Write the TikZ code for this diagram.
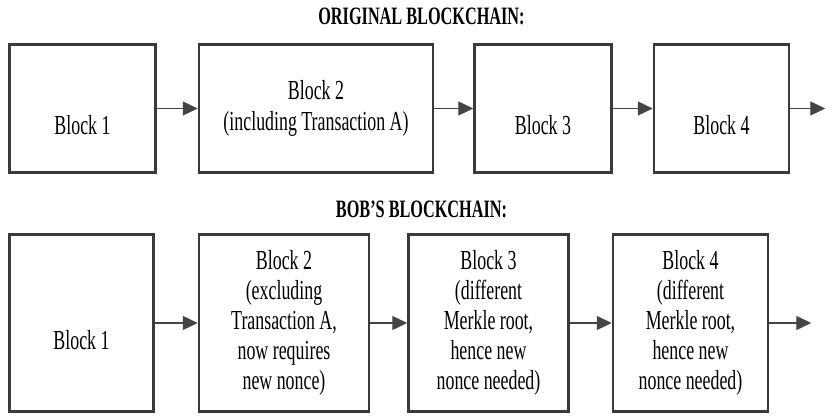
\documentclass[tikz,border=0pt]{standalone}
\usepackage{fontspec}
\setmainfont{Liberation Serif}[FakeStretch=0.65]
\usepackage{tikz}
\usetikzlibrary{arrows.meta,positioning}
\definecolor{boxgray}{HTML}{3A3A3A}
\definecolor{arrgray}{HTML}{444444}

\begin{document}
\begin{tikzpicture}[x=1pt, y=1pt, font=\fontsize{27.5}{30}\selectfont, node distance=40pt,
  blk/.style={draw=boxgray, line width=2.5pt, align=center, inner sep=2pt},
  one/.style={blk, text height=52pt, text depth=0pt},
  top/.style={minimum height=128pt}, bot/.style={minimum height=177pt},
  ttl/.style={font=\fontsize{25}{28}\selectfont\bfseries, anchor=base},
  arr/.style={-{Triangle[length=15pt, width=14pt]}, line width=1.3pt, draw=arrgray, fill=arrgray}]
\useasboundingbox (0,0) rectangle (827,415);
% original chain
\node[ttl] (otitle) at (421.5,390) {ORIGINAL BLOCKCHAIN:};
\node[one, top, minimum width=146pt] (o1) at (82.5,306.5) {Block 1};
\node[blk, top, minimum width=234pt, right=41pt of o1] (o2) {Block 2\\[1pt](including Transaction A)};
\node[one, top, minimum width=137pt, right=39pt of o2] (o3) {Block 3};
\node[one, top, minimum width=135pt, right=40pt of o3] (o4) {Block 4};
\coordinate[right=35pt of o4] (oend);
\draw[arr] (o1)--(o2); \draw[arr] (o2)--(o3); \draw[arr] (o3)--(o4); \draw[arr] (o4)--(oend);
% bob's chain
\node[ttl] (btitle) at (421.5,197) {BOB'S BLOCKCHAIN:};
\node[one, bot, minimum width=144pt] (b1) at (81.5,92) {Block 1};
\node[blk, bot, minimum width=170pt, right=43pt of b1] (b2) {Block 2\\(excluding\\Transaction A,\\now requires\\new nonce)};
\node[blk, bot, minimum width=160pt, right=37pt of b2] (b3) {Block 3\\(different\\Merkle root,\\hence new\\nonce needed)};
\node[blk, bot, minimum width=155pt, right=42pt of b3] (b4) {Block 4\\(different\\Merkle root,\\hence new\\nonce needed)};
\coordinate[right=42pt of b4] (bend);
\draw[arr] (b1)--(b2); \draw[arr] (b2)--(b3); \draw[arr] (b3)--(b4); \draw[arr] (b4)--(bend);
\end{tikzpicture}
\end{document}
